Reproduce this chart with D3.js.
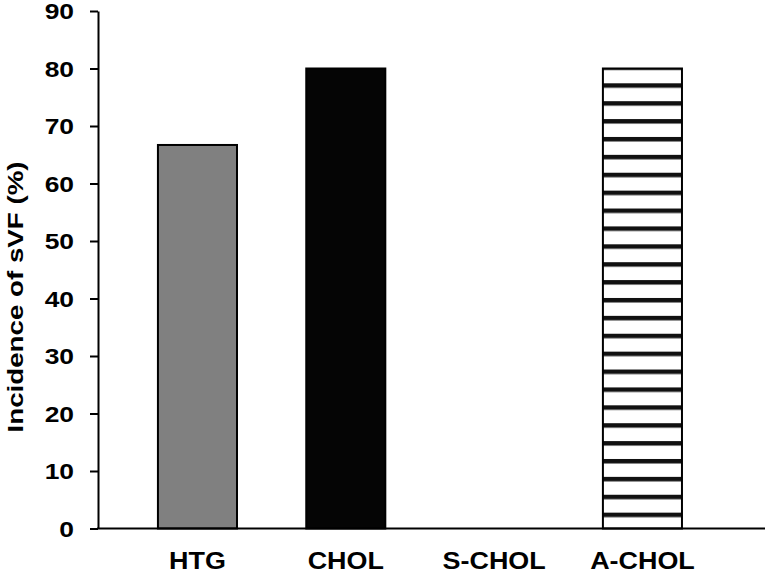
<!DOCTYPE html>
<html>
<head>
<meta charset="utf-8">
<script src="https://cdn.jsdelivr.net/npm/d3@7"></script>
<style>
  html, body { margin: 0; padding: 0; background: #fff; }
  svg { display: block; }
  text { font-family: "Liberation Sans", Arial, sans-serif; font-weight: bold; fill: #000; }
</style>
</head>
<body>
<svg id="chart" width="765" height="572"></svg>
<script>
// ---- data ----
const categories = ["HTG", "CHOL", "S-CHOL", "A-CHOL"];
const values = [66.7, 80, 0, 80];
const yTicks = [0, 10, 20, 30, 40, 50, 60, 70, 80, 90];
const yLabel = "Incidence of sVF (%)";

// ---- styles ----
const fillFor = { "HTG": "#808080", "CHOL": "#050505", "S-CHOL": "#ffffff", "A-CHOL": "url(#hstripe)" };

const svg = d3.select("#chart");
const W = 765, H = 572;
const axisX = 98, y0px = 528.5, yTop = 11;

const y = d3.scaleLinear().domain([0, 90]).range([y0px, yTop]);
const x = d3.scaleBand().domain(categories).range([123.3, 716.6])
  .paddingInner(0.467).paddingOuter(0.2335);

// stripe pattern
const defs = svg.append("defs");
const pat = defs.append("pattern").attr("id", "hstripe")
  .attr("patternUnits", "userSpaceOnUse")
  .attr("x", 0).attr("y", 512.65).attr("width", 20).attr("height", 17.89);
pat.append("rect").attr("width", 20).attr("height", 17.89).attr("fill", "#fff");
pat.append("rect").attr("width", 20).attr("height", 4.5).attr("fill", "#111");

// bars
svg.append("g").selectAll("rect").data(categories.map((c, i) => ({ c, v: values[i] })))
  .join("rect")
  .attr("x", d => x(d.c))
  .attr("width", x.bandwidth())
  .attr("y", d => y(d.v))
  .attr("height", d => y(0) - y(d.v))
  .attr("fill", d => fillFor[d.c])
  .attr("stroke", "#000")
  .attr("stroke-width", 2);

// y axis
const yAxis = d3.axisLeft(y).tickValues(yTicks).tickSize(8).tickSizeOuter(0).tickFormat(d3.format("d"));
const gy = svg.append("g").attr("transform", `translate(${axisX},0)`).call(yAxis);
gy.select(".domain").attr("stroke", "#000").attr("stroke-width", 2);
gy.selectAll(".tick line").attr("stroke", "#000").attr("stroke-width", 2);
gy.selectAll(".tick text").remove();
gy.selectAll(".tick").append("text")
  .attr("text-anchor", "end")
  .attr("dy", "0.35em")
  .attr("font-size", 22)
  .attr("transform", "translate(-24,0) scale(1.2,1)")
  .text(d => d);

// x axis line
svg.append("line")
  .attr("x1", axisX - 1).attr("x2", W)
  .attr("y1", y(0)).attr("y2", y(0))
  .attr("stroke", "#000").attr("stroke-width", 2);

// category labels
svg.append("g").selectAll("text").data(categories).join("text")
  .attr("text-anchor", "middle")
  .attr("font-size", 23)
  .attr("transform", d => `translate(${x(d) + x.bandwidth() / 2},569) scale(1.17,1)`)
  .text(d => d);

// y label
svg.append("text")
  .attr("text-anchor", "middle")
  .attr("font-size", 22)
  .attr("transform", "translate(23.3,297) rotate(-90) scale(1.26,1)")
  .text(yLabel);
</script>
</body>
</html>
